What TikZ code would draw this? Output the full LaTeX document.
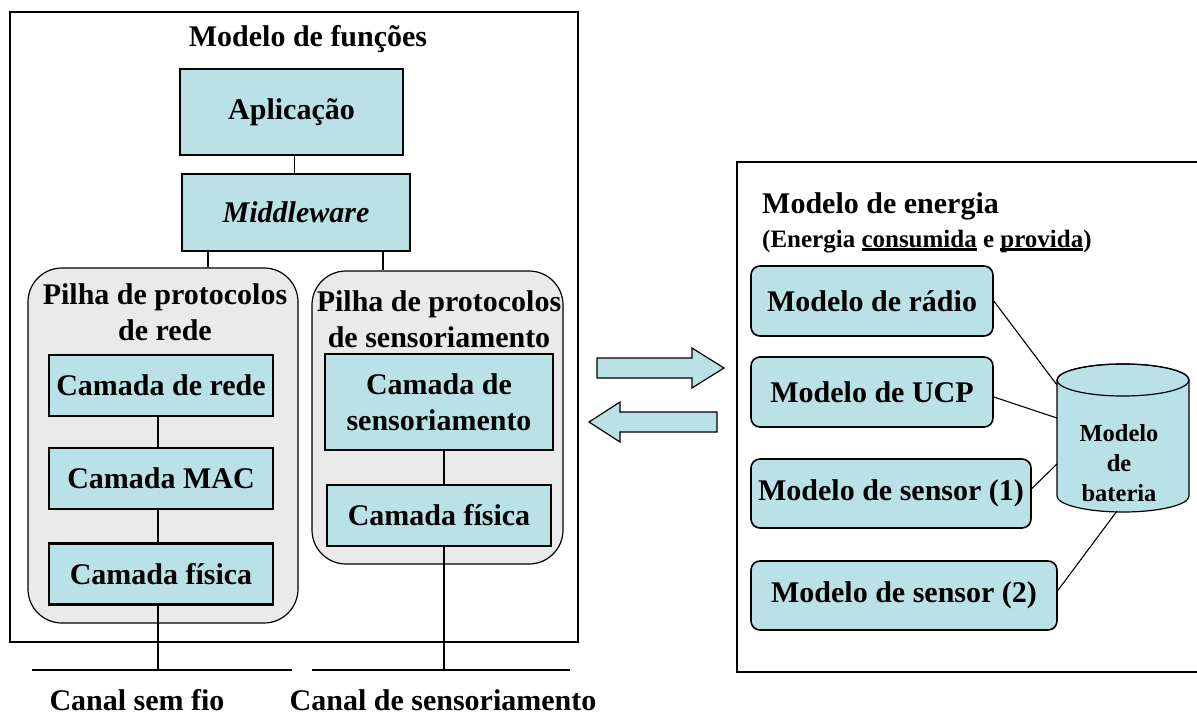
\documentclass[tikz,border=0pt]{standalone}
\usepackage{fontspec}
\setmainfont{Liberation Serif}
\definecolor{boxblue}{RGB}{186,226,230}
\definecolor{stackgray}{RGB}{234,234,234}
\newcommand{\lblfont}{\fontsize{30}{36}\selectfont\bfseries}
\newcommand{\subfont}{\fontsize{25}{30}\selectfont\bfseries}
\newcommand{\battfont}{\fontsize{24.5}{30}\selectfont\bfseries}
\newcommand{\thickul}[1]{\setbox0\hbox{#1}\leavevmode\rlap{\rule[-3.5pt]{\wd0}{2.2pt}}\box0\relax}
\begin{document}
\begin{tikzpicture}[x=1pt,y=-1pt,
  layer/.style={draw,line width=2.6pt,fill=boxblue,minimum width=224pt,minimum height=61pt,inner sep=0pt,align=center,font=\lblfont},
  model/.style={draw,line width=1.6pt,rounded corners=9pt,fill=boxblue,minimum height=70pt,inner sep=0pt,font=\lblfont},
  stack/.style={draw,line width=1.2pt,rounded corners=34pt,fill=stackgray},
  txt/.style={inner sep=0pt,font=\lblfont},
  link/.style={line width=1.1pt}]
\useasboundingbox (0,0) rectangle (1197,717);
\draw[line width=1.6pt] (10,12) rectangle (578,642);
\draw[line width=1.6pt] (1200,162) -- (737,162) -- (737,672) -- (1200,672);
%
\node[txt,anchor=base] (fnTitle) at (308,47) {Modelo de funções};
\node[layer,minimum width=223pt,minimum height=86pt] (app) at (291.5,112) {Aplicação};
\node[layer,minimum width=228pt,minimum height=77pt] (mid) at (296,212.5) {\itshape Middleware};
\node[stack,minimum width=270pt,minimum height=355pt] (stackL) at (163,445.5) {};
\node[stack,minimum width=251pt,minimum height=293pt] (stackR) at (437.5,417.5) {};
\node[txt,anchor=north,align=center] (stackLtxt) at (165,283) {Pilha de protocolos\\de rede};
\node[txt,anchor=north,align=center] (stackRtxt) at (439,290) {Pilha de protocolos\\de sensoriamento};
\node[layer] (rede) at (161,385.5) {Camada de rede};
\node[layer] (mac) at (161,478.5) {Camada MAC};
\node[layer] (fisL) at (161,574) {Camada física};
\node[layer,minimum width=228pt,minimum height=96pt] (sens) at (439,402) {Camada de\\sensoriamento};
\node[layer] (fisR) at (439,515.5) {Camada física};
\draw[link] ([xshift=3pt]app.south) -- ([xshift=3pt]app.south |- mid.north);
\draw[link] ([xshift=-88pt]mid.south) -- ([xshift=-88pt]mid.south |- stackL.north);
\draw[link] ([xshift=87pt]mid.south) -- ([xshift=87pt]mid.south |- stackR.north);
\draw[link] ([xshift=-3pt]rede.south) -- ([xshift=-3pt]mac.north);
\draw[link] ([xshift=-3pt]mac.south) -- ([xshift=-3pt]fisL.north);
\draw[link] ([xshift=5pt]sens.south) -- ([xshift=5pt]fisR.north);
%
\coordinate (semFioA) at (32,670); \coordinate (semFioB) at (292,670);
\coordinate (sensorA) at (312,670); \coordinate (sensorB) at (570,670);
\draw[line width=1.6pt] (semFioA) -- (semFioB); \draw[line width=1.6pt] (sensorA) -- (sensorB);
\draw[link] ([xshift=-3pt]fisL.south) -- ([xshift=-3pt]fisL.south |- semFioA);
\draw[link] ([xshift=5pt]fisR.south) -- ([xshift=5pt]fisR.south |- sensorA);
\node[txt,anchor=base] (semFio) at (137,710) {Canal sem fio};
\node[txt,anchor=base] (canalSens) at (443,710) {Canal de sensoriamento};
%
\filldraw[fill=boxblue,line width=1.2pt] (597,358) -- (692,358) -- (692,348) -- (724,368) -- (692,388) -- (692,378) -- (597,378) -- cycle;
\filldraw[fill=boxblue,line width=1.2pt] (717,412) -- (620,412) -- (620,402) -- (589,422) -- (620,442) -- (620,432) -- (717,432) -- cycle;
%
\node[txt,anchor=base west] (enTitle) at (762,213) {Modelo de energia};
\node[txt,font=\subfont,anchor=base west] (enSub) at (762,247) {(Energia \thickul{consumida} e \thickul{provida})};
\node[model,minimum width=242pt] (radio) at (872,301) {Modelo de rádio};
\node[model,minimum width=242pt] (ucp) at (872,392) {Modelo de UCP};
\node[model,minimum width=280pt,minimum height=69pt] (sen1) at (891,493.5) {Modelo de sensor (1)};
\node[model,minimum width=306pt,minimum height=69pt] (sen2) at (904,595.5) {Modelo de sensor (2)};
\filldraw[fill=boxblue,line width=1.2pt] (1057,380) -- (1057,496) arc[start angle=180,end angle=360,x radius=66pt,y radius=16pt] -- (1189,380) arc[start angle=0,end angle=180,x radius=66pt,y radius=16pt] -- cycle;
\draw[line width=1.2pt] (1123,380) ellipse [x radius=66pt,y radius=16pt];
\node[txt,font=\battfont,align=center] (batt) at (1119,463) {Modelo\\de\\bateria};
\coordinate (cylA) at (1057,385); \coordinate (cylB) at (1057,418);
\coordinate (cylC) at (1057,464); \coordinate (cylD) at (1117,511);
\draw[link] (radio.east) -- (cylA);
\draw[link] ([yshift=-5pt]ucp.east) -- (cylB);
\draw[link] ([yshift=5pt]sen1.east) -- (cylC);
\draw[link] ([yshift=5pt]sen2.east) -- (cylD);
\end{tikzpicture}
\end{document}
